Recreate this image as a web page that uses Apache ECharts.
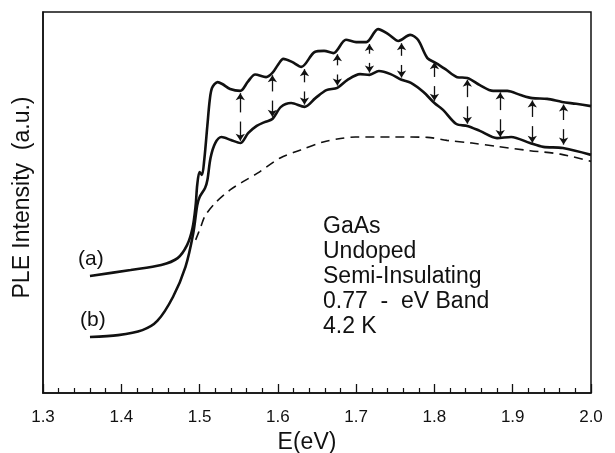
<!DOCTYPE html>
<html>
<head>
<meta charset="utf-8">
<script src="https://cdn.jsdelivr.net/npm/echarts@6/dist/echarts.min.js"></script>
<style>
  html,body{margin:0;padding:0;background:#fff;}
  #chart{width:615px;height:453px;}
</style>
</head>
<body>
<div id="chart"></div>
<script>
// curve (a)
var aE = [1.360,1.412,1.451,1.472,1.484,1.491,1.495,1.497,1.500,1.503,1.506,1.510,1.513,1.516,1.523,1.529,1.539,1.552,1.562,1.571,1.585,1.593,1.600,1.607,1.618,1.630,1.647,1.659,1.671,1.687,1.700,1.713,1.728,1.741,1.754,1.769,1.779,1.791,1.802,1.814,1.829,1.842,1.858,1.875,1.893,1.910,1.925,1.944,1.963,1.981,2.000];
var aI = [30.7,32.3,33.6,35.4,38.8,43.3,49.3,54.6,58.0,57.2,61.2,70.3,76.9,80.1,81.6,81.1,79.8,79.3,81.8,83.6,82.9,84.0,86.1,87.7,86.9,85.6,89.5,89.8,89.2,92.7,92.1,92.1,95.5,94.2,92.4,94.0,92.7,87.9,86.6,85.0,82.9,82.7,80.8,79.3,79.3,78.2,77.4,77.2,76.4,75.9,75.3];
// curve (b)
var bE = [1.360,1.396,1.427,1.446,1.466,1.482,1.492,1.497,1.500,1.507,1.510,1.514,1.520,1.528,1.540,1.552,1.562,1.573,1.583,1.593,1.604,1.617,1.634,1.648,1.662,1.676,1.689,1.705,1.717,1.729,1.744,1.758,1.770,1.786,1.800,1.811,1.828,1.842,1.858,1.880,1.898,1.922,1.939,1.964,2.000];
var bI = [14.7,15.2,16.5,18.9,25.2,33.1,42.0,49.3,51.4,53.8,55.9,61.7,65.6,67.2,66.4,65.6,68.2,70.1,71.1,71.9,75.1,76.1,75.1,77.4,79.5,80.1,82.2,83.7,83.5,84.5,83.7,82.2,81.4,79.0,76.1,74.3,70.6,70.1,68.8,66.9,67.2,65.6,64.6,64.3,62.5];
// dashed background
var cE = [1.495,1.501,1.507,1.520,1.539,1.555,1.574,1.603,1.629,1.658,1.680,1.699,1.750,1.791,1.816,1.848,1.880,1.922,1.961,2.000];
var cI = [40.2,43.3,46.5,49.9,53.3,55.4,57.7,61.7,63.8,65.9,66.8,67.2,67.2,67.1,66.3,65.6,64.7,63.6,62.7,60.8];
// arrows between (a) and (b)
var arrowE = [1.552,1.593,1.634,1.676,1.717,1.758,1.800,1.842,1.884,1.925,1.965];
var arrowTop = [79.3,84.0,85.6,89.5,92.2,92.4,87.4,82.8,79.5,77.4,76.3];
var arrowBottom = [65.6,71.9,75.1,80.1,83.5,82.2,76.1,70.1,66.6,65.1,64.6];
var xTicks = ['1.3','1.4','1.5','1.6','1.7','1.8','1.9','2.0'];
var notes = ['GaAs','Undoped','Semi-Insulating','0.77  -  eV Band','4.2 K'];

function zip(x, y){ return x.map(function(v,i){ return [v, y[i]]; }); }

var arrowLines = [];
arrowE.forEach(function(e, i){
  var t = arrowTop[i] - 0.6, b = arrowBottom[i] + 0.6;
  var mid = (t + b) / 2, gap = 1.2;
  arrowLines.push([{coord:[e, mid + gap]}, {coord:[e, t]}]);
  arrowLines.push([{coord:[e, mid - gap]}, {coord:[e, b]}]);
});

var font = 'Liberation Sans, Arial, Helvetica, sans-serif';
var chart = echarts.init(document.getElementById('chart'));
chart.setOption({
  animation:false,
  backgroundColor:'#fff',
  grid:{left:43,right:24,top:12,bottom:60,outerBoundsMode:'none',containLabel:false,
    show:true,borderColor:'#111',borderWidth:1.5},
  xAxis:{
    type:'value',min:1.3,max:2.0,interval:0.1,
    name:'E(eV)',nameLocation:'middle',nameGap:33,
    nameTextStyle:{color:'#111',fontSize:23,fontFamily:font,padding:[0,20,0,0]},
    axisLine:{lineStyle:{color:'#111',width:1.5}},
    axisTick:{inside:true,length:9,lineStyle:{color:'#111',width:1.3}},
    minorTick:{show:true,splitNumber:5,length:5,lineStyle:{color:'#111',width:1.2}},
    axisLabel:{color:'#111',fontSize:17,fontFamily:font,margin:16,
      formatter:function(v){ return xTicks[Math.round((v-1.3)*10)]; }},
    splitLine:{show:false}
  },
  yAxis:{
    type:'value',min:0,max:100,
    name:'PLE Intensity  (a.u.)',nameLocation:'middle',nameGap:9,
    nameTextStyle:{color:'#111',fontSize:23,fontFamily:font,padding:[0,0,0,10]},
    axisLine:{show:true,lineStyle:{color:'#111',width:1.5}},
    axisTick:{show:false},axisLabel:{show:false},splitLine:{show:false}
  },
  series:[
    {type:'line',data:zip(aE,aI),symbol:'none',smooth:0.3,
      lineStyle:{color:'#111',width:2.6},
      markLine:{silent:true,symbol:['none','arrow'],symbolSize:7,label:{show:false},
        lineStyle:{color:'#111',width:1.3,type:'solid'},data:arrowLines}},
    {type:'line',data:zip(bE,bI),symbol:'none',smooth:0.3,lineStyle:{color:'#111',width:2.6}},
    {type:'line',data:zip(cE,cI),symbol:'none',smooth:0.3,lineStyle:{color:'#111',width:1.6,type:[9,6]}}
  ],
  graphic:[
    {type:'text',left:78,top:249,style:{text:'(a)',fill:'#111',font:'21px '+font}},
    {type:'text',left:80,top:310,style:{text:'(b)',fill:'#111',font:'21px '+font}},
    {type:'text',left:323,top:214,style:{text:notes.join('\n'),fill:'#111',font:'23px '+font,lineHeight:25}}
  ]
});
</script>
</body>
</html>
